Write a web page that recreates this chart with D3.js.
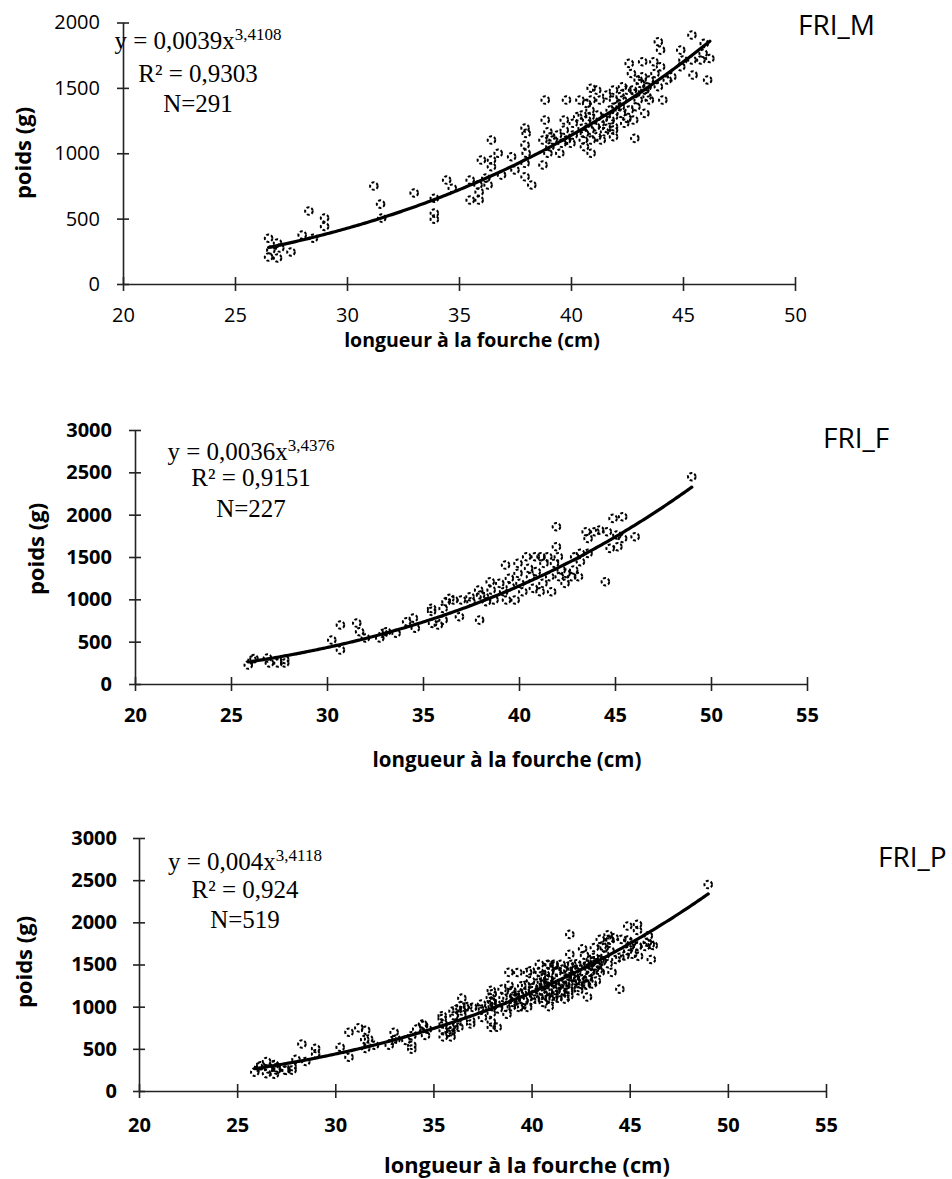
<!DOCTYPE html>
<html>
<head>
<meta charset="utf-8">
<title>FRI - poids / longueur</title>
<style>
  body { margin: 0; background: #fff; }
  svg { display: block; }
</style>
</head>
<body>
<svg id="canvas" width="952" height="1179"></svg>
<script src="https://cdn.jsdelivr.net/npm/d3@7"></script>
<script>
// ---- data (longueur cm, poids g) ----
const friM = [
  [26.5,350],[26.5,206],[26.6,260],[26.9,313],[26.9,199],[27.0,275],[27.5,245],[28.0,375],[28.3,558],[28.5,350],
  [29.0,505],[29.0,440],[31.2,749],[31.5,611],[31.55,504],[33.0,696],[33.9,656],[33.9,542],[33.9,496],[34.45,795],
  [34.7,732],[35.5,795],[35.5,642],[35.9,704],[35.9,642],[36.0,948],[35.85,757],[36.2,810],[36.45,1101],[36.45,948],
  [36.45,897],[36.3,757],[36.75,1000],[36.9,833],[37.35,973],[37.5,872],[37.95,1193],[38.0,1152],[37.95,1063],[38.0,1000],
  [37.95,923],[37.95,820],[38.25,757],[38.75,910],[38.85,1407],[38.85,1254],[38.75,1101],[38.97,1164],[39.06,1050],[39.1,1126],
  [38.97,1000],[39.5,1000],[39.4,1139],[39.7,1254],[39.8,1407],[39.7,1177],[40.0,1076],[40.1,1229],[40.4,1407],[40.5,1292],
  [40.5,1190],[40.55,1101],[40.9,1497],[40.9,1407],[40.85,1330],[40.85,1280],[40.85,1177],[40.9,1101],[40.9,1000],[41.3,1407],
  [41.2,1292],[41.3,1229],[41.35,1101],[41.6,1190],[41.75,1330],[41.9,1483],[41.9,1407],[41.9,1280],[41.9,1177],[42.2,1356],
  [42.3,1509],[42.3,1407],[42.5,1267],[42.5,1483],[42.7,1610],[42.6,1687],[42.8,1254],[42.85,1114],[42.9,1458],[43.0,1560],
  [43.0,1407],[43.2,1700],[43.2,1585],[43.3,1305],[43.4,1509],[43.4,1433],[43.7,1700],[43.75,1610],[43.9,1853],[44.0,1789],
  [44.0,1662],[43.9,1509],[44.1,1407],[44.3,1560],[44.5,1585],[44.9,1789],[44.9,1662],[45.0,1713],[45.4,1904],[45.4,1713],
  [45.45,1598],[45.8,1713],[45.95,1840],[45.9,1764],[46.2,1725],[46.1,1560],
  [39.2,1101],[39.6,1076],[40.1,1139],[40.3,1280],[40.6,1152],[40.7,1254],[41.1,1203],[41.15,1126],[41.45,1267],[41.5,1164],
  [41.75,1254],[41.9,1203],[42.0,1356],[42.2,1433],[42.25,1305],[42.4,1229],[42.6,1330],[42.9,1356],[43.1,1534],[43.3,1483],
  [43.5,1560],[43.5,1407],[42.75,1483],[41.9,1126],[39.8,1101],[40.6,1050],[40.7,1381],[41.15,1483],[41.6,1445]
];

const friF = [
  [25.9,224],[26.1,283],[26.2,300],[26.9,307],[27.0,248],[27.45,248],[27.8,248],[27.8,290],[30.25,519],[30.7,697],
  [30.7,401],[31.55,720],[31.7,617],[32.0,543],[32.75,543],[33.1,617],[33.6,600],[32.93,598],[34.15,735],[34.6,659],
  [34.5,778],[35.45,893],[35.45,858],[35.5,716],[35.8,696],[36.05,755],[36.05,893],[36.2,972],[36.4,1011],[36.6,992],
  [36.9,795],[37.0,992],[37.45,1031],[37.5,972],[37.9,1110],[37.95,755],[38.0,1051],[38.2,1031],[38.3,972],[38.5,1208],
  [38.55,1110],[38.7,992],[39.0,1189],[39.2,1090],[39.3,1405],[39.35,992],[39.5,1248],[39.55,1150],[39.8,992],[39.95,1425],
  [39.95,1307],[40.05,1189],[40.2,1090],[40.4,1503],[40.5,1366],[40.6,1268],[40.75,1130],[40.85,1503],[40.9,1327],[41.1,1090],
  [41.15,1503],[41.25,1189],[41.3,1425],[41.5,1503],[41.6,1268],[41.7,1090],[41.85,1425],[41.95,1857],[41.95,1621],[42.05,1503],
  [42.1,1268],[42.2,1346],[42.4,1189],[42.45,1307],[42.75,1268],[42.85,1346],[42.9,1503],[43.1,1268],[43.2,1444],[43.2,1543],
  [43.5,1798],[43.6,1719],[43.6,1543],[43.95,1798],[44.2,1818],[44.5,1208],[44.6,1798],[44.75,1602],[44.9,1956],[45.1,1759],
  [45.15,1621],[45.4,1976],[45.4,1720],[46.05,1739],[49.0,2448]
];

// FRI_P : males and females together
const friP = friM.concat(friF);

// axis ticks
const xTicksM = [20, 25, 30, 35, 40, 45, 50];
const yTicksM = [0, 500, 1000, 1500, 2000];
const xTicksFP = [20, 25, 30, 35, 40, 45, 50, 55];
const yTicksFP = [0, 500, 1000, 1500, 2000, 2500, 3000];

// power trend y = a * x^b
const trendM = [0.0039, 3.4108];
const trendF = [0.0036, 3.4376];
const trendP = [0.004, 3.4118];

// equation labels
const eqM = ["y = 0,0039x", "3,4108", "R² = 0,9303", "N=291"];
const eqF = ["y = 0,0036x", "3,4376", "R² = 0,9151", "N=227"];
const eqP = ["y = 0,004x", "3,4118", "R² = 0,924", "N=519"];

const names = ["FRI_M", "FRI_F", "FRI_P"];

let svg = d3.select("#canvas");

// panel layout
let panels = [
  { data: friM, xt: xTicksM, yt: yTicksM, trend: trendM, eq: eqM, name: names[0],
    xr: [123, 795], yr: [284, 22.5], bold: false, tickFont: 20, xPad: 17, yPad: 17,
    eqX: 198, eqY: [49, 82, 112], nameX: 798, nameY: 35,
    yTitle: [23, 153], xTitle: [472, 347], titleFont: 19.5 },
  { data: friF, xt: xTicksFP, yt: yTicksFP, trend: trendF, eq: eqF, name: names[1],
    xr: [135, 807], yr: [684, 430], bold: true, tickFont: 20, xPad: 17, yPad: 17,
    eqX: 251, eqY: [460, 486, 517], nameX: 823, nameY: 448,
    yTitle: [36, 549], xTitle: [507, 767], titleFont: 20.5 },
  { data: friP, xt: xTicksFP, yt: yTicksFP, trend: trendP, eq: eqP, name: names[2],
    xr: [139, 826], yr: [1091, 838], bold: true, tickFont: 20, xPad: 20, yPad: 16,
    eqX: 245, eqY: [870, 898, 928], nameX: 878, nameY: 867,
    yTitle: [24, 962], xTitle: [527, 1173], titleFont: 21.8 }
];

panels.forEach(function(p) {
  let g = svg.append("g");

  let x = d3.scaleLinear()
    .domain([p.xt[0], p.xt[p.xt.length - 1]])
    .range(p.xr);
  let y = d3.scaleLinear()
    .domain([p.yt[0], p.yt[p.yt.length - 1]])
    .range(p.yr);

  // axes
  let xAxis = g.append("g")
    .attr("transform", "translate(0," + p.yr[0] + ")")
    .call(d3.axisBottom(x).tickValues(p.xt).tickFormat(d3.format("d"))
      .tickSizeInner(7).tickSizeOuter(0).tickPadding(p.xPad));
  let yAxis = g.append("g")
    .attr("transform", "translate(" + p.xr[0] + ",0)")
    .call(d3.axisLeft(y).tickValues(p.yt).tickFormat(d3.format("d"))
      .tickSizeInner(6).tickSizeOuter(0).tickPadding(p.yPad));

  xAxis.selectAll(".tick line").attr("y1", -7);
  yAxis.selectAll(".tick line").attr("x1", 6).attr("x2", -6);

  [xAxis, yAxis].forEach(function(a) {
    a.selectAll("path, line").attr("stroke", "#222").attr("stroke-width", 1.6);
    a.selectAll("text")
      .attr("font-family", "'Open Sans', sans-serif")
      .attr("font-size", p.tickFont)
      .attr("font-weight", p.bold ? "bold" : "normal")
      .attr("fill", "#000");
  });

  // points
  g.append("g").selectAll("circle")
    .data(p.data)
    .enter()
    .append("circle")
      .attr("cx", function(d) { return x(d[0]); })
      .attr("cy", function(d) { return y(d[1]); })
      .attr("r", 3.8)
      .attr("fill", "none")
      .attr("stroke", "#000")
      .attr("stroke-width", 2)
      .attr("stroke-dasharray", "3,2");

  // trend line over the data range
  let ext = d3.extent(p.data, function(d) { return d[0]; });
  let xs = d3.range(ext[0], ext[1], 0.1).concat([ext[1]]);
  let line = d3.line()
    .x(function(v) { return x(v); })
    .y(function(v) { return y(p.trend[0] * Math.pow(v, p.trend[1])); });
  g.append("path")
    .datum(xs)
    .attr("d", line)
    .attr("fill", "none")
    .attr("stroke", "#000")
    .attr("stroke-width", 3.2)
    .attr("stroke-linecap", "round");

  // equation
  let serif = "'Liberation Serif', 'Times New Roman', serif";
  let t1 = g.append("text")
    .attr("x", p.eqX).attr("y", p.eqY[0])
    .attr("text-anchor", "middle")
    .attr("font-family", serif).attr("font-size", 25);
  t1.append("tspan").text(p.eq[0]);
  t1.append("tspan").attr("dy", -9).attr("font-size", 17).text(p.eq[1]);
  g.append("text")
    .attr("x", p.eqX).attr("y", p.eqY[1])
    .attr("text-anchor", "middle")
    .attr("font-family", serif).attr("font-size", 25)
    .text(p.eq[2]);
  g.append("text")
    .attr("x", p.eqX).attr("y", p.eqY[2])
    .attr("text-anchor", "middle")
    .attr("font-family", serif).attr("font-size", 25)
    .text(p.eq[3]);

  // titles
  g.append("text")
    .attr("transform", "translate(" + p.yTitle[0] + "," + p.yTitle[1] + ") rotate(-90)")
    .attr("text-anchor", "middle")
    .attr("dy", "0.35em")
    .attr("font-family", "'Open Sans', sans-serif")
    .attr("font-weight", "bold")
    .attr("font-size", 22)
    .text("poids (g)");
  g.append("text")
    .attr("x", p.xTitle[0]).attr("y", p.xTitle[1])
    .attr("text-anchor", "middle")
    .attr("font-family", "'Open Sans', sans-serif")
    .attr("font-weight", "bold")
    .attr("font-size", p.titleFont)
    .text("longueur à la fourche (cm)");

  g.append("text")
    .attr("x", p.nameX).attr("y", p.nameY)
    .attr("font-family", "'Open Sans', sans-serif")
    .attr("font-size", 28)
    .text(p.name);
});
</script>
</body>
</html>
